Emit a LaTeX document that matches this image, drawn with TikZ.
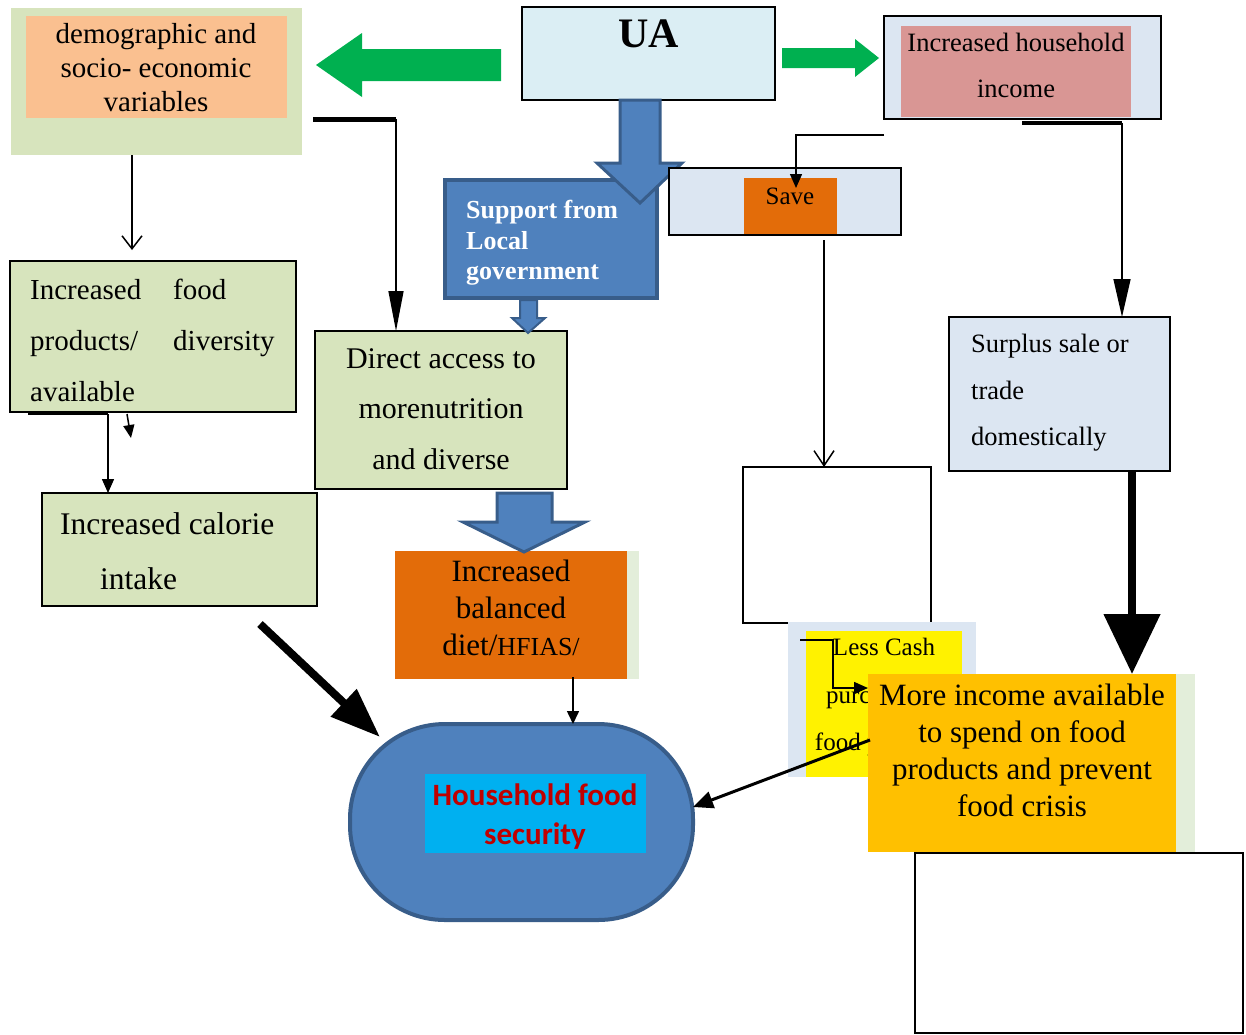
\documentclass[tikz,border=0pt]{standalone}
\usepackage{fontspec}
\setmainfont{Liberation Serif}
\newfontfamily\calibri{Carlito}
\usepackage{tikz}
\usetikzlibrary{arrows.meta,fit,positioning}
\usepackage{xcolor}
\definecolor{lgreen}{HTML}{D7E4BD}
\definecolor{peach}{HTML}{FAC090}
\definecolor{uablue}{HTML}{DBEEF4}
\definecolor{ablue}{HTML}{4F81BD}
\definecolor{dblue}{HTML}{385D8A}
\definecolor{agreen}{HTML}{00B050}
\definecolor{rose}{HTML}{D99694}
\definecolor{steel}{HTML}{DCE6F2}
\definecolor{dorange}{HTML}{E36C09}
\definecolor{gold}{HTML}{FFC000}
\definecolor{strip}{HTML}{E3EEDA}
\definecolor{cyanbox}{HTML}{00B0F0}
\definecolor{darkred}{HTML}{C00000}

\tikzset{
  area/.style={rectangle, inner sep=0pt, outer sep=0pt},
  framed/.style={area, draw=black, line width=1.8pt},
  txt/.style={inner sep=0pt, align=center},
  sz/.style 2 args={font=\fontsize{#1}{#2}\selectfont},
  link/.style={line width=1.5pt, -{Triangle[length=14pt,width=12pt]}},
  blockarrow/.style={fill=ablue, draw=dblue, line width=3pt, line join=miter},
}

\begin{document}
\begin{tikzpicture}[x=1pt,y=-1pt]
\useasboundingbox (0,0) rectangle (1246,1034);

\node[area, fill=lgreen, fit={(11,8) (302,155)}] (demo-bg) {};
\node[area, fill=peach, fit={(26,16) (287,118)}] (demo) {};
\node[txt, sz={29}{34}] (demo-t) at (156,68) {demographic and\\socio- economic\\variables};

\node[framed, fill=uablue, fit={(522,7) (775,100)}] (ua) {};
\node[txt, sz={42}{50}, below=13pt of ua.north] (ua-t) {\bfseries UA};

\fill[agreen] (316,65) -- (362,33) -- (362,49) -- (501,49) -- (501,81) -- (362,81) -- (362,97) -- cycle;
\fill[agreen] (782,48) -- (855,48) -- (855,39) -- (879,58) -- (855,77) -- (855,68) -- (782,68) -- cycle;

\node[framed, fill=steel, fit={(884,16) (1161,119)}] (inc-bg) {};
\node[area, fill=rose, fit={(901,26) (1131,117)}] (inc) {};
\node[txt, sz={26.5}{46}] (inc-t) at (1016,65) {Increased household\\income};

\node[area, fill=ablue, draw=dblue, line width=4pt, fit={(445,180) (657,298)}] (sup) {};
\node[txt, align=left, anchor=west, text=white, sz={26}{30.5}] (sup-t) at (466,243) {\bfseries Support from\\\bfseries Local\\\bfseries government};
\draw[blockarrow] (620,100) -- (660,100) -- (660,163) -- (682,163) -- (640,203) -- (597,163) -- (620,163) -- cycle;

\node[framed, fill=steel, fit={(669,168) (901,235)}] (save-bg) {};
\node[area, fill=dorange, fit={(744,178) (837,234)}] (save) {};
\node[txt, sz={25}{30}] (save-t) at (790,196) {Save};
\coordinate (s0) at (884,135);
\coordinate (s1) at (796,188);
\draw[link] (s0) -| (s1);

\node[framed, fit={(743,467) (931,623)}] (box1) {};
\coordinate (s2) at (824,240);
\draw[line width=1.5pt, -{Straight Barb[length=15pt,width=20pt]}] (s2) -- (s2 |- box1.north);

\node[framed, fill=steel, fit={(949,317) (1170,471)}] (sur) {};
\node[txt, align=left, anchor=west, sz={26.5}{46.5}] (sur-t) at (971,393) {Surplus sale or\\trade\\domestically};
\coordinate (h0) at (1022,123);
\coordinate (h1) at (1122,123);
\draw[line width=4pt] (h0) -- (h1);
\draw[line width=1.5pt, -{Triangle[length=38pt,width=17pt]}] (h1) -- (h1 |- sur.north);

\node[area, fill=steel, fit={(788,622) (976,777)}] (cash-bg) {};
\node[area, fill=yellow, fit={(806,631) (962,777)}] (cash) {};
\begin{scope}
\clip (788,622) -- (976,622) -- (976,674) -- (868,674) -- (868,777) -- (788,777) -- cycle;
\node[txt, sz={25}{47.5}] (cash-t) at (884,697) {Less Cash\\purchase of\\food products};
\end{scope}
\coordinate (c0) at (800,640);
\coordinate (c1) at (833,640);
\coordinate (c2) at (868,688);
\draw[link] (c0) -- (c1) |- (c2);

\node[area, fill=strip, fit={(868,674) (1195,852)}] (more-bg) {};
\node[area, fill=gold, fit={(868,674) (1176,852)}] (more) {};
\node[txt, sz={31}{37}] (more-t) at (1022,750) {More income available\\to spend on food\\products and prevent\\food crisis};
\coordinate (u0) at (1132,472);
\draw[line width=8pt, -{Triangle[length=60pt,width=55pt]}] (u0) -- (u0 |- more.north);

\node[framed, fit={(915,853) (1243,1033)}] (box2) {};

\node[area, fill=ablue, draw=dblue, line width=4pt, rounded corners=95pt, fit={(350,724) (693,920)}] (hfs) {};
\node[area, fill=cyanbox, fit={(425,774) (646,853)}] (hfs-in) {};
\node[txt, text=darkred, sz={31}{39}] (hfs-t) at (535,817) {\calibri\bfseries Household food\\\calibri\bfseries security};
\coordinate (m0) at (870,740);
\draw[line width=3pt, -{Triangle[length=20pt,width=17pt]}] (m0) -- (hfs.5);

\node[area, fill=strip, fit={(395,551) (639,679)}] (diet-bg) {};
\node[area, fill=dorange, fit={(395,551) (627,679)}] (diet) {};
\node[txt, sz={31}{37}] (diet-t) at (511,608) {Increased\\balanced\\diet/{\fontsize{26}{37}\selectfont HFIAS/}};
\coordinate (t0) at (573,677);
\draw[line width=1.5pt, -{Triangle[length=13pt,width=12pt]}] (t0) -- (t0 |- hfs.north);

\node[framed, fill=lgreen, fit={(315,331) (567,489)}] (dir) {};
\node[txt, sz={30}{50.5}] (dir-t) at (441,409) {Direct access to\\morenutrition\\and diverse};
\draw[blockarrow] (497,493) -- (552,493) -- (552,522) -- (585,522) -- (524,552) -- (463,522) -- (497,522) -- cycle;
\draw[blockarrow, line width=2pt] (520,300) -- (537,300) -- (537,318) -- (545,318) -- (528,333) -- (512,318) -- (520,318) -- cycle;

\coordinate (d0) at (313,119);
\coordinate (d1) at (396,119);
\draw[line width=5pt] (d0) -- (d1);
\draw[line width=1.5pt, -{Triangle[length=40pt,width=15pt]}] (d1) -- (d1 |- dir.north);

\node[framed, fill=lgreen, fit={(10,261) (296,412)}] (food) {};
\node[txt, align=left, anchor=west, sz={29}{51}] (food-t) at (30,340) {\makebox[143pt][l]{Increased}food\\\makebox[143pt][l]{products/}diversity\\available};
\coordinate (d2) at (132,155);
\coordinate (d3) at (132,250);
\draw[line width=1.5pt, -{Straight Barb[length=13pt,width=20pt]}] (d2) -- (d3);

\node[framed, fill=lgreen, fit={(42,493) (317,606)}] (cal) {};
\node[txt, align=left, anchor=west, sz={31.5}{55}] (cal-t) at (60,551) {Increased calorie\\\hspace*{40pt}intake};
\coordinate (f0) at (28,414);
\coordinate (f1) at (108,414);
\coordinate (f2) at (127,414);
\coordinate (f3) at (131,438);
\draw[line width=2.5pt] (f0) -- (f1);
\draw[link] (f1) -- (f1 |- cal.north);
\draw[line width=1.5pt, -{Triangle[length=13pt,width=11pt]}] (f2) -- (f3);

\coordinate (k0) at (260,624);
\coordinate (k1) at (380,737);
\draw[line width=8pt, -{Triangle[length=50pt,width=36pt]}] (k0) -- (k1);
\end{tikzpicture}
\end{document}
